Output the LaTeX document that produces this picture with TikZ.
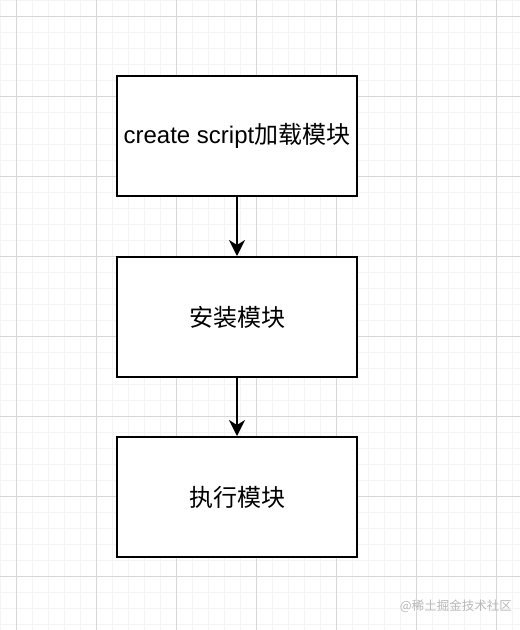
\documentclass[tikz,border=0pt]{standalone}
\usepackage{fontspec}
\setmainfont{Liberation Sans}
\newfontfamily\cjk{Noto Sans CJK SC}
\usetikzlibrary{arrows.meta}
\definecolor{minorgrid}{HTML}{F4F4F4}
\definecolor{majorgrid}{HTML}{D6D6D6}
\definecolor{wm}{HTML}{B8B8B8}
\begin{document}
\begin{tikzpicture}[x=1pt,y=-1pt,
  box/.style={draw=black,line width=2pt,fill=white,minimum width=240pt,minimum height=120pt,inner sep=0pt,font=\fontsize{24}{28}\selectfont},
  conn/.style={line width=2pt,-{Stealth[length=16pt,width=16pt,inset=5pt]}}]
\useasboundingbox (0,0) rectangle (520,630);
\fill[white] (0,0) rectangle (520,630);
\foreach \i in {0,16,...,512} \draw[minorgrid,line width=1pt] (\i,0) -- (\i,630);
\foreach \j in {0,16,...,624} \draw[minorgrid,line width=1pt] (0,\j) -- (520,\j);
\foreach \i in {16,96,...,496} \draw[majorgrid,line width=1pt] (\i,0) -- (\i,630);
\foreach \j in {16,96,...,576} \draw[majorgrid,line width=1pt] (0,\j) -- (520,\j);
\node[box] (b1) at (237,136) {create script{\cjk 加载模块}};
\node[box] (b2) at (237,317) {\cjk 安装模块};
\node[box] (b3) at (237,497) {\cjk 执行模块};
\draw[conn] (b1.south) -- (b2.north);
\draw[conn] (b2.south) -- (b3.north);
\node[text=wm,font=\cjk\fontsize{12.5}{14}\selectfont,anchor=east,inner sep=0pt] (wmk) at (512,606) {@稀土掘金技术社区};
\end{tikzpicture}
\end{document}
